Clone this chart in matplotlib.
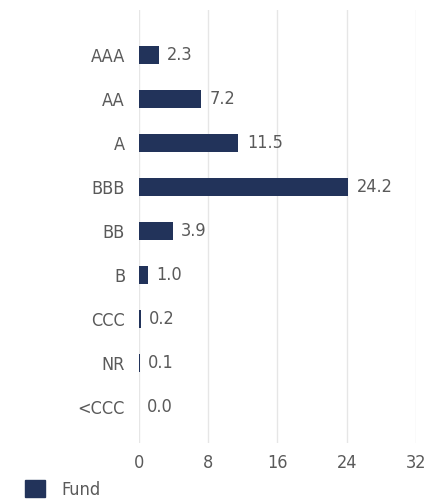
import matplotlib.pyplot as plt
from matplotlib.patches import Patch

# credit quality breakdown
ratings = ["AAA", "AA", "A", "BBB", "BB", "B", "CCC", "NR", "<CCC"]
fund = [2.3, 7.2, 11.5, 24.2, 3.9, 1.0, 0.2, 0.1, 0.0]
xticks = [0, 8, 16, 24, 32]

plt.rcParams['font.family'] = ['DejaVu Sans']
plt.rcParams['font.stretch'] = 'condensed'
txt = "#5a5a5a"
navy = "#22335a"

fig = plt.figure(figsize=(4.41, 5.0), dpi=100)
ax = fig.add_axes([0.315, 0.114, 0.628, 0.866])

pos = list(range(len(ratings)))
ax.barh(pos, fund, height=0.4, color=navy, zorder=3)
for p, v in zip(pos, fund):
    ax.annotate(f"{v:.1f}", (v, p), xytext=(6, 0), textcoords="offset points",
                va="center", ha="left", fontsize=13, color=txt)

ax.set_yticks(pos)
ax.set_yticklabels(ratings, fontsize=13, color=txt)
ax.set_ylim(8.82, -1.02)
ax.set_xlim(0, 32)
ax.set_xticks(xticks)
ax.set_xticklabels([str(t) for t in xticks], fontsize=13, color=txt)
ax.tick_params(length=0, pad=8)
ax.tick_params(axis="y", pad=10)
ax.grid(axis="x", color="#e6e6e6", linewidth=1, zorder=0)
for s in ax.spines.values():
    s.set_visible(False)

fig.legend(handles=[Patch(color=navy, label="Fund")], loc="lower left",
           bbox_to_anchor=(0.02, -0.03), frameon=False, fontsize=13,
           labelcolor=txt, handlelength=1.1, handleheight=1.0, handletextpad=0.9)

fig.savefig("out.png", dpi=100)
